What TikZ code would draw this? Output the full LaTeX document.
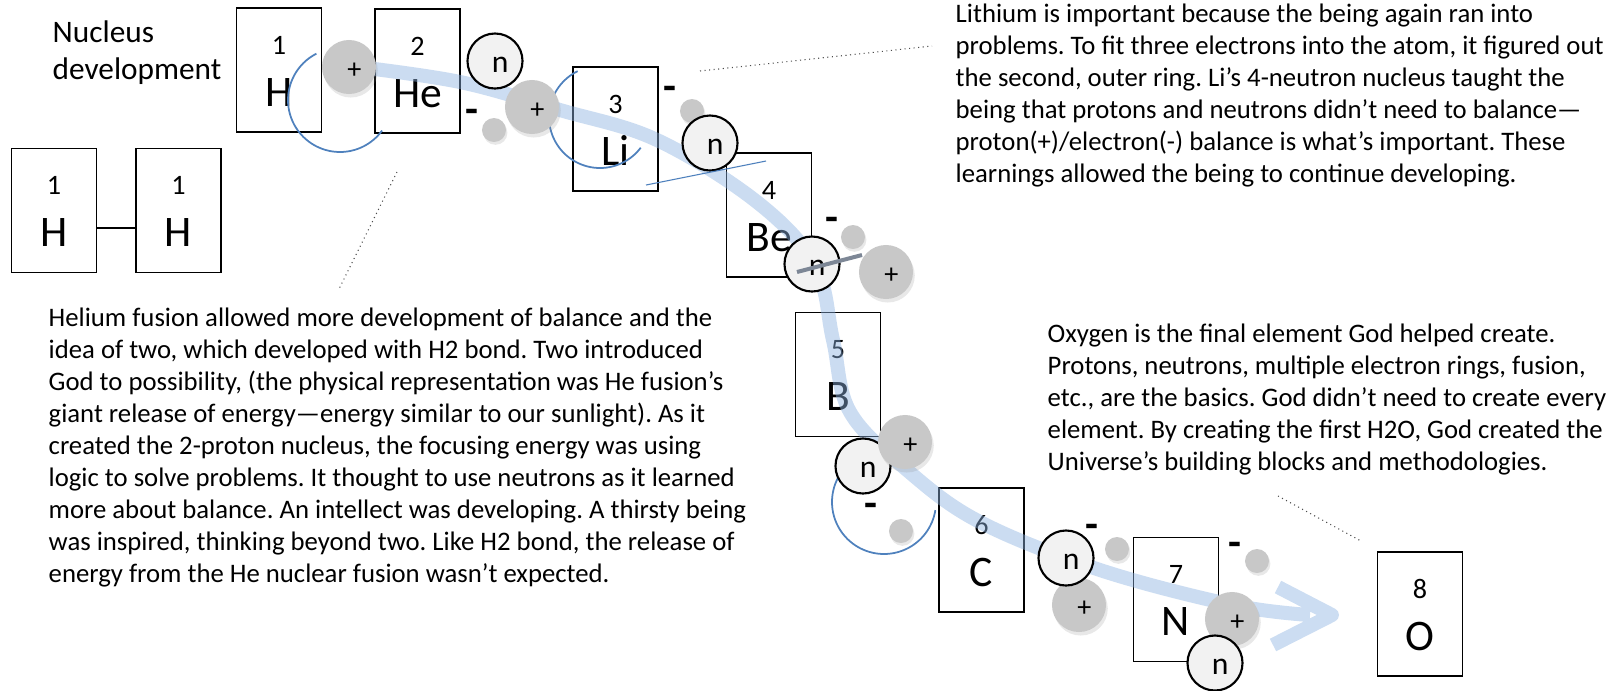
\documentclass[tikz,border=0pt]{standalone}
\usepackage{fontspec}
\setmainfont{Carlito}
\usetikzlibrary{shadows}
\frenchspacing

\definecolor{bandblue}{RGB}{141,179,226}
\definecolor{ringblue}{RGB}{79,129,189}
\definecolor{ballgray}{RGB}{200,200,200}
\definecolor{ngray}{RGB}{242,242,242}
\definecolor{bargray}{RGB}{125,135,150}

\tikzset{
    elem/.style={draw, fill=white, line width=0.45pt, minimum width=0.85cm, minimum height=1.24cm, inner sep=0pt},
    anum/.style={font=\fontsize{8}{9}\selectfont, anchor=base, inner sep=0pt},
    asym/.style={font=\fontsize{12.4}{14}\selectfont, anchor=base, inner sep=0pt},
    proton/.style={circle, fill=ballgray, minimum size=0.54cm, inner sep=0pt,
        drop shadow={shadow xshift=0.5pt, shadow yshift=-1pt, opacity=0.18},
        label={[font=\fontsize{8}{9}\selectfont, xshift=1.5pt, yshift=-1pt]center:+}},
    neutron/.style={circle, draw, fill=ngray, line width=0.6pt, minimum size=0.55cm, inner sep=0pt,
        label={[font=\fontsize{9}{10}\selectfont, xshift=1.5pt, yshift=-1pt]center:n}},
    electron/.style={circle, fill=ballgray, minimum size=0.24cm, inner sep=0pt,
        drop shadow={shadow xshift=0.4pt, shadow yshift=-0.8pt, opacity=0.18}},
    minus/.style={font=\fontsize{12}{12}\bfseries\selectfont, inner sep=0pt},
    ring/.style={ringblue, line width=0.5pt},
    band/.style={bandblue, opacity=0.45, line width=0.14cm, line join=round},
    leader/.style={black!70, line width=0.3pt, densely dotted},
    % multi-line notes are placed by the baseline of their last line
    para/.style={font=\fontsize{7.6}{9.1}\selectfont, align=left, anchor=base west, inner sep=0pt},
    heading/.style={font=\fontsize{8.9}{10.24}\selectfont, align=left, anchor=base west, inner sep=0pt}
}

\begin{document}
\begin{tikzpicture}[x=0.01cm, y=-0.01cm]
    % Size of the slide in pixels
    \def\picw{1620}
    \def\pich{690}
    \useasboundingbox (0,0) rectangle (\picw,\pich);

    % Element boxes: name/x/y/number/symbol
    \foreach \nm/\x/\y/\z/\sym in {hT/279/70/1/H, he/417.5/71/2/He, li/615.5/129/3/Li,
        be/769/215/4/Be, b/838/374.5/5/B, c/981.5/550/6/C, nn/1176/599.5/7/N,
        o/1420/614/8/O, hA/54/210.5/1/H, hB/178.5/210.5/1/H} {
        \node[elem] (\nm) at (\x,\y) {};
        \node[anum] (\nm-z) at ([yshift=-0.47cm]\nm.north) {\z};
        \node[asym] (\nm-s) at ([yshift=-0.99cm]\nm.north) {\sym};
    }

    % H2 bond
    \draw[line width=0.6pt] ([yshift=-0.175cm]hA.east) -- ([yshift=-0.175cm]hB.west);

    % The path of development, with its open arrow head
    \draw[band] plot[smooth, tension=0.6] coordinates {(350,66) (460,82) (560,110) (657,140)
        (757,202) (815,265) (833,340) (850,412) (907,470) (980,522) (1100,570) (1233,605) (1310,615)}
        (1278,587) -- (1332,615) -- (1273,645);

    % Electron rings
    \draw[ring] plot[domain=243:36, samples=60] ({340+52*cos(\x)}, {100+52*sin(\x)}); % H
    \draw[ring] plot[domain=244:37, samples=60] ({600+51*cos(\x)}, {117+51*sin(\x)}); % Li
    \draw[ring] plot[domain=214:9, samples=60] ({884+52*cos(\x)}, {502+52*sin(\x)}); % B

    % Thin ring line between Li and Be
    \coordinate (lineA) at (646,185);
    \coordinate (lineB) at (766,161);

    % Particles, H and He
    \node[proton] (p1) at (349,67) {};
    \node[neutron] (n1) at (495,61) {};
    \node[electron] (e1) at (494,130) {};
    \node[proton] (p2) at (532,107) {};
    \node[minus] (m1) at (472,116) {-};

    % Li
    \node[electron] (e2) at (692,111) {};
    \node[neutron] (n2) at (710,143) {};
    \node[minus] (m2) at (670,93) {-};
    \draw[ringblue, line width=0.3pt] (lineA) -- (lineB);

    % Be
    \node[neutron] (n3) at (812,264) {};
    \node[electron] (e3) at (853,237) {};
    \node[proton] (p3) at (886,272) {};
    \node[minus] (m3) at (832,224) {-};
    \coordinate (barA) at (797,272);
    \coordinate (barB) at (862,255);
    \draw[bargray, line width=0.04cm] (barA) -- (barB);

    % B
    \node[neutron] (n4) at (863,466) {};
    \node[proton] (p4) at (905,442) {};
    \node[electron] (e4) at (901,531) {};
    \node[minus] (m4) at (871,510) {-};

    % C
    \node[proton] (p5) at (1079,605) {};
    \node[neutron] (n5) at (1066,558) {};
    \node[electron] (e5) at (1117,549) {};
    \node[minus] (m5) at (1092,531) {-};

    % N
    \node[proton] (p6) at (1232,619) {};
    \node[neutron] (n6) at (1215,663) {};
    \node[electron] (e6) at (1257,561) {};
    \node[minus] (m6) at (1235,549) {-};

    % Leader lines to the notes
    \coordinate (heA) at (397,172);
    \coordinate (heB) at (339,289);
    \draw[leader] (heA) -- (heB);
    \coordinate (liA) at (700,71);
    \coordinate (liB) at (932,46);
    \draw[leader] (liA) -- (liB);
    \coordinate (oA) at (1278,496);
    \coordinate (oB) at (1361,541);
    \draw[leader] (oA) -- (oB);

    % Notes
    \node[heading] (title) at (52,79) {Nucleus\\development};

    \node[para] (heText) at (48,582) {Helium fusion allowed more development of balance and the\\
        idea of two, which developed with H2 bond. Two introduced\\
        God to possibility, (the physical representation was He fusion’s\\
        giant release of energy—energy similar to our sunlight). As it\\
        created the 2-proton nucleus, the focusing energy was using\\
        logic to solve problems. It thought to use neutrons as it learned\\
        more about balance. An intellect was developing. A thirsty being\\
        was inspired, thinking beyond two. Like H2 bond, the release of\\
        energy from the He nuclear fusion wasn’t expected.};

    \node[para] (liText) at (955,182) {Lithium is important because the being again ran into\\
        problems. To fit three electrons into the atom, it figured out\\
        the second, outer ring. Li’s 4-neutron nucleus taught the\\
        being that protons and neutrons didn’t need to balance—\\
        proton(+)/electron(-) balance is what’s important. These\\
        learnings allowed the being to continue developing.};

    \node[para] (oText) at (1047,470) {Oxygen is the final element God helped create.\\
        Protons, neutrons, multiple electron rings, fusion,\\
        etc., are the basics. God didn’t need to create every\\
        element. By creating the first H2O, God created the\\
        Universe’s building blocks and methodologies.};
\end{tikzpicture}
\end{document}
